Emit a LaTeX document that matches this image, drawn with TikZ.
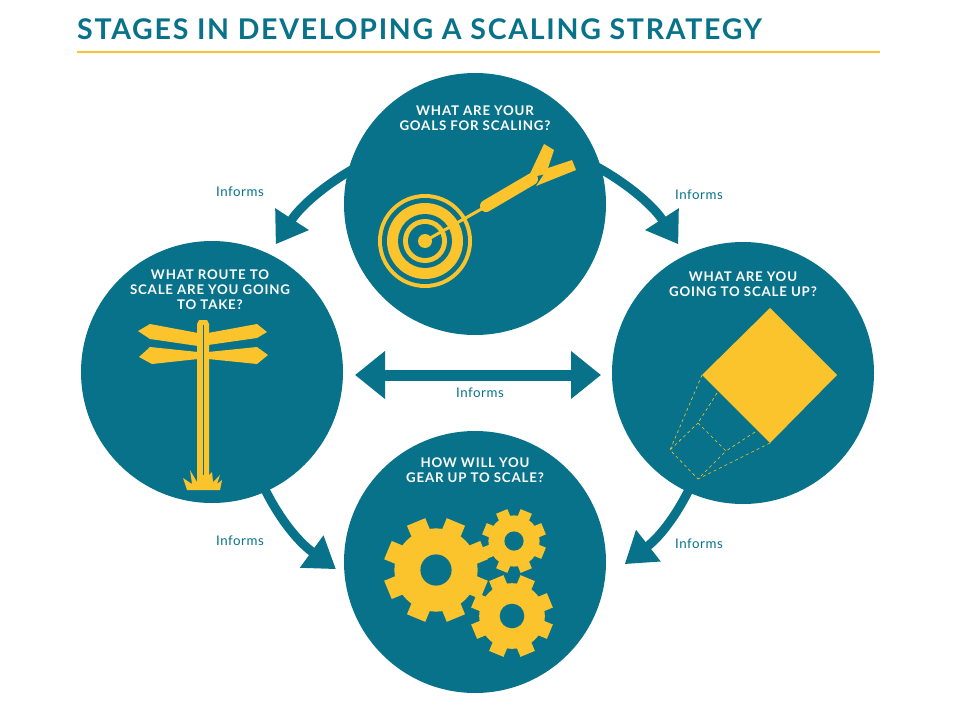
\documentclass[tikz,border=0pt]{standalone}
\usepackage{fontspec}
\setmainfont{Lato}
\newfontfamily\titlefont[LetterSpace=6]{Lato}
\newfontfamily\qfont[LetterSpace=6]{Lato}
\newfontfamily\inffont[LetterSpace=4]{Lato}
\usetikzlibrary{arrows.meta}
\definecolor{teal}{RGB}{7,114,137}
\definecolor{yel}{RGB}{252,196,44}
\tikzset{
 circ/.style={circle,fill=teal,minimum size=262pt,inner sep=0},
 qtext/.style={text=white,font=\qfont\bfseries\fontsize{13.3}{15}\selectfont,align=center},
 inf/.style={text=teal,font=\inffont\fontsize{13.3}{14}\selectfont},
 ring/.style={draw=teal,line width=9pt,-{Triangle[length=30pt,width=38pt]}},
 gear/.pic={\fill[yel] (0,0) circle (0.8);
   \foreach \a in {22.5,67.5,...,337.5}{\fill[yel,rotate=\a] (0.6,-0.19) rectangle (1,0.19);}
   \fill[teal] (0,0) circle (0.3);}
}
\begin{document}
\begin{tikzpicture}[x=1pt,y=-1pt]
\useasboundingbox (0,0) rectangle (959,725);
\node[anchor=west,text=teal,font=\titlefont\bfseries\fontsize{28.5}{30}\selectfont,inner sep=0] (title) at (77,29) {STAGES IN DEVELOPING A SCALING STRATEGY};
\draw[yel,line width=1.2pt] (77,52) -- (880,52);
\coordinate (C) at (477,375);
\draw[ring] ([shift={(250:240)}]C) arc[start angle=250,end angle=213,radius=240];
\draw[ring] ([shift={(-70:240)}]C) arc[start angle=-70,end angle=-33,radius=240];
\draw[ring] ([shift={(10:240)}]C) arc[start angle=10,end angle=52,radius=240];
\draw[ring] ([shift={(170:240)}]C) arc[start angle=170,end angle=126,radius=240];
\node[circ] (top) at (475,204) {};
\node[circ] (left) at (212,372) {};
\node[circ] (right) at (743,373) {};
\node[circ] (bot) at (475,562) {};
\draw[teal,line width=11pt,{Triangle[length=30pt,width=46pt]}-{Triangle[length=30pt,width=46pt]}] (355,375) -- (601,375);
\node[qtext] at (475,118) {WHAT ARE YOUR\\GOALS FOR SCALING?};
\node[qtext] at (210,290) {WHAT ROUTE TO\\SCALE ARE YOU GOING\\TO TAKE?};
\node[qtext] at (743,284) {WHAT ARE YOU\\GOING TO SCALE UP?};
\node[qtext] at (475,470) {HOW WILL YOU\\GEAR UP TO SCALE?};
\node[inf] at (240,192) {Informs};
\node[inf] at (699,195) {Informs};
\node[inf] at (480,393) {Informs};
\node[inf] at (240,541) {Informs};
\node[inf] at (699,544) {Informs};
% target
\fill[yel] (425,241) circle (47);
\fill[teal] (425,241) circle (43);
\fill[yel] (425,241) circle (38);
\fill[teal] (425,241) circle (27);
\fill[yel] (425,241) circle (22);
\fill[teal] (425,241) circle (17);
\fill[yel] (425,241) circle (7);
\draw[yel,line width=3pt] (425,241) -- (485,207);
\draw[yel,line width=12pt,line cap=round] (486,206) -- (532,179);
\fill[yel] (528,178) -- (544,144) -- (554,150) -- (546,174) -- cycle;
\fill[yel] (536,186) -- (576,170) -- (572,160) -- (548,168) -- cycle;
% signpost
\fill[yel] (138,331) -- (150,324) -- (198,333) -- (198,346) -- (150,339) -- cycle;
\fill[yel] (139,357) -- (150,347) -- (198,352) -- (198,359) -- (152,364) -- cycle;
\fill[yel] (208,333) -- (257,324) -- (267,332) -- (257,338) -- (208,345) -- cycle;
\fill[yel] (208,352) -- (257,347) -- (268,355) -- (257,364) -- (208,359) -- cycle;
\fill[yel] (197,324) -- (199,320) -- (207,320) -- (209,324) -- (209,484) -- (197,484) -- cycle;
\draw[teal,line width=0.8pt] (203,325) -- (203,483);
\fill[yel] (187,490) -- (183,478) -- (192,484) -- (190,470) -- (197,482) -- (197,475) -- (209,475) -- (212,472) -- (213,482) -- (220,475) -- (217,484) -- (222,480) -- (220,490) -- cycle;
% diamond
\fill[yel] (770,308) -- (837,375) -- (770,443) -- (702,375) -- cycle;
\draw[yel,dashed,line width=0.6pt] (698,423) -- (726,451) -- (698,479) -- (670,450) -- cycle
 (702,375) -- (670,450) (717,393) -- (698,423) (770,443) -- (698,479) (755,432) -- (726,451);
% gears
\pic[scale=52] at (436,570) {gear};
\pic[scale=32] at (514,541) {gear};
\pic[scale=41] at (512,616) {gear};
\end{tikzpicture}
\end{document}
